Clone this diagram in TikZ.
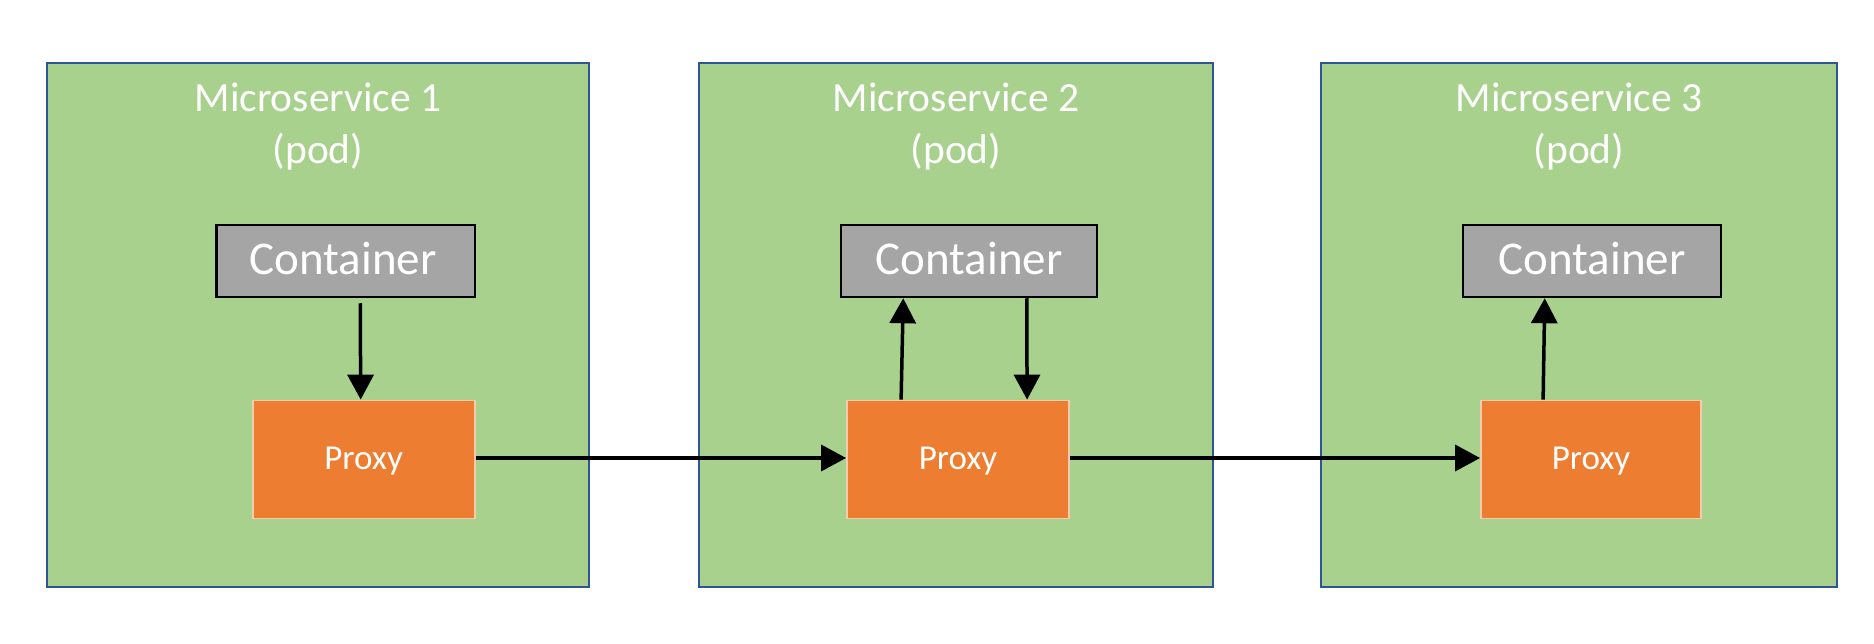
\documentclass[tikz,border=0pt]{standalone}
\usepackage{fontspec}
\setmainfont{Carlito}
\usetikzlibrary{arrows.meta,calc}
\definecolor{podgreen}{HTML}{A9D18E}
\definecolor{podblue}{HTML}{2F5597}
\definecolor{contgray}{HTML}{A5A5A5}
\definecolor{proxorange}{HTML}{ED7D31}
\definecolor{proxborder}{HTML}{F8CBAD}
\begin{document}
\begin{tikzpicture}[x=1pt,y=-1pt,
  podbox/.style={draw=podblue,fill=podgreen,line width=1.8pt,inner sep=0pt,minimum height=524pt},
  contbox/.style={draw=black,fill=contgray,line width=2.5pt,inner sep=0pt,minimum height=72pt},
  proxbox/.style={draw=proxborder,fill=proxorange,line width=1.8pt,inner sep=0pt,minimum height=118pt},
  titletext/.style={text=white,font=\fontsize{41.5}{50}\selectfont,anchor=base,inner sep=0pt},
  conttext/.style={text=white,font=\fontsize{47}{56}\selectfont,anchor=base,inner sep=0pt},
  proxtext/.style={text=white,font=\fontsize{35}{42}\selectfont,anchor=base,inner sep=0pt},
  arr/.style={line width=3.5pt,-{Triangle[width=26pt,length=25pt]}}]
\useasboundingbox (0,0) rectangle (1874,644);
\fill[white] (0,0) rectangle (1874,644);
% pods
\node[podbox,minimum width=542pt] (pod1) at (318,325) {};
\node[podbox,minimum width=514pt] (pod2) at (956,325) {};
\node[podbox,minimum width=516pt] (pod3) at (1579,325) {};
% titles
\node[titletext] (t1) at (318,111.7) {Microservice 1};
\node[titletext] (p1) at (318,163.3) {(pod)};
\node[titletext] (t2) at (956,111.7) {Microservice 2};
\node[titletext] (p2) at (956,163.3) {(pod)};
\node[titletext] (t3) at (1579,111.7) {Microservice 3};
\node[titletext] (p3) at (1579,163.3) {(pod)};
% containers
\node[contbox,minimum width=258.5pt] (cont1) at (345.75,261) {};
\node[contbox,minimum width=256pt] (cont2) at (969,261) {};
\node[contbox,minimum width=258pt] (cont3) at (1592,261) {};
\node[conttext] (ct1) at (343,275) {Container};
\node[conttext] (ct2) at (969,275) {Container};
\node[conttext] (ct3) at (1592,275) {Container};
% proxies
\node[proxbox,minimum width=222pt] (prox1) at (363.6,459.5) {};
\node[proxbox,minimum width=222pt] (prox2) at (958,459.5) {};
\node[proxbox,minimum width=220pt] (prox3) at (1591,459.5) {};
\node[proxtext] (pt1) at (363.6,469.4) {Proxy};
\node[proxtext] (pt2) at (958,469.4) {Proxy};
\node[proxtext] (pt3) at (1591,469.4) {Proxy};
% arrows
\draw[arr] ($(cont1.south west)+(145,5)$) -- ($(prox1.north west)+(109,0)$);
\draw[arr] ($(prox2.north west)+(55,0)$) -- ($(cont2.south west)+(63.5,0)$);
\draw[arr] ($(cont2.south west)+(187,0)$) -- ($(prox2.north west)+(181,0)$);
\draw[arr] ($(prox3.north west)+(63,0)$) -- ($(cont3.south west)+(83,0)$);
\draw[arr] ($(prox1.east)+(0,-1.5)$) -- ($(prox2.west)+(0,-1.5)$);
\draw[arr] ($(prox2.east)+(0,-1.5)$) -- ($(prox3.west)+(0,-1.5)$);
\end{tikzpicture}
\end{document}
